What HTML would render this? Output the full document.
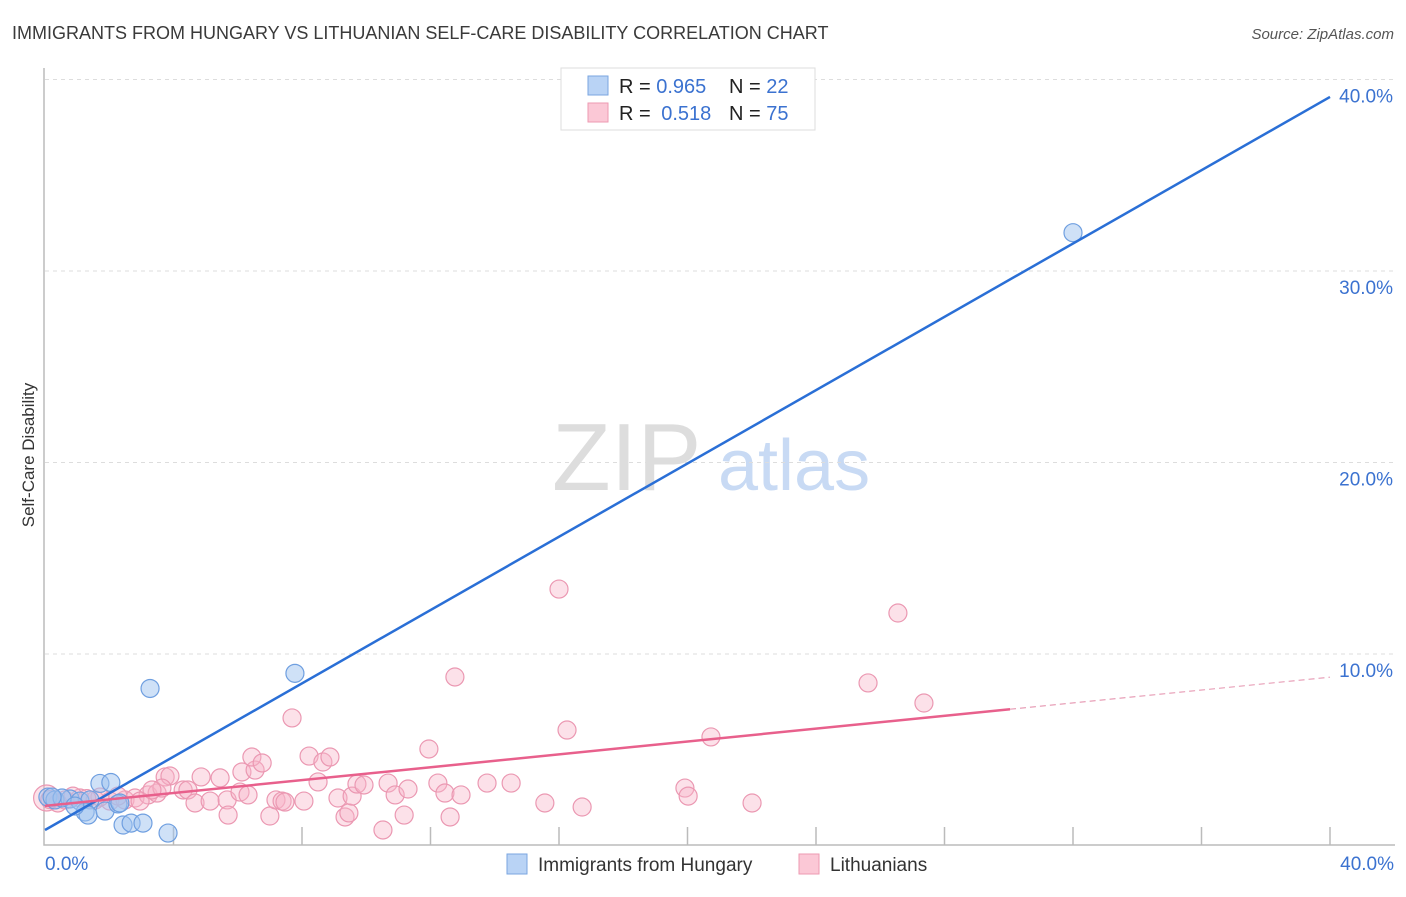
<!DOCTYPE html>
<html><head><meta charset="utf-8"><style>
body{margin:0;background:#fff;font-family:"Liberation Sans",sans-serif;}
svg text{font-family:"Liberation Sans",sans-serif;}
</style></head><body>
<svg id="chart" width="1406" height="892" xmlns="http://www.w3.org/2000/svg">
<text x="12" y="39" font-size="18" fill="#3a3a3a">IMMIGRANTS FROM HUNGARY VS LITHUANIAN SELF-CARE DISABILITY CORRELATION CHART</text>
<text x="1394" y="39" font-size="15" fill="#555" text-anchor="end" font-style="italic">Source: ZipAtlas.com</text>
<text transform="translate(34,455) rotate(-90)" font-size="17" fill="#333" text-anchor="middle">Self-Care Disability</text>
<g>
<text x="552" y="490" font-size="96" fill="#ddd" font-family="Liberation Serif, serif">ZIP</text>
<text x="718" y="490" font-size="72" fill="#c8daf4">atlas</text>
</g>
<g id="grid"></g>
<g id="marks"></g>
<g>
<rect x="561" y="68" width="254" height="62" fill="#fff" stroke="#ddd"/>
<rect x="588" y="76" width="20" height="19" fill="#b9d3f5" stroke="#7aa6e0"/>
<rect x="588" y="103" width="20" height="19" fill="#fbc8d6" stroke="#ee9ab2"/>
<text x="619" y="93" font-size="20" fill="#222">R = <tspan fill="#3b72d0">0.965</tspan><tspan x="729">N = </tspan><tspan fill="#3b72d0">22</tspan></text>
<text x="619" y="120" font-size="20" fill="#222">R = <tspan fill="#3b72d0" dx="5">0.518</tspan><tspan x="729">N = </tspan><tspan fill="#3b72d0">75</tspan></text>
</g>
<g>
<rect x="507" y="854" width="20" height="20" fill="#b9d3f5" stroke="#7aa6e0"/>
<text x="538" y="871" font-size="19" fill="#333">Immigrants from Hungary</text>
<rect x="799" y="854" width="20" height="20" fill="#fbc8d6" stroke="#ee9ab2"/>
<text x="830" y="871" font-size="19" fill="#333">Lithuanians</text>
</g>
</svg>
<script>
const yTicks=[10,20,30,40];
const yTickLabels=["10.0%","20.0%","30.0%","40.0%"];
const xTickLabels=["0.0%","40.0%"];
const blueX=[32.0,7.78,3.27,1.71,2.05,0.09,0.31,0.78,0.53,1.09,1.40,1.25,1.34,1.87,2.27,2.33,2.43,2.68,3.05,3.83,0.22,0.93];
const blueY=[32.0,8.99,8.2,3.24,3.29,2.53,2.38,2.43,2.48,2.32,2.38,1.75,1.59,1.80,2.17,2.22,1.07,1.17,1.17,0.65,2.53,2.06];
const pinkX=[0.05,0.31,0.62,1.09,1.56,2.02,2.49,2.80,3.21,3.49,3.74,3.89,3.64,4.30,4.45,4.67,4.86,5.14,5.45,5.67,5.70,6.07,6.13,6.32,6.54,6.44,6.76,7.00,7.19,7.38,7.47,7.69,8.06,8.22,8.50,8.65,8.87,9.12,9.34,9.46,9.56,9.71,9.93,10.52,10.68,10.90,11.30,11.18,11.95,12.23,12.45,12.61,12.95,12.76,13.76,14.51,15.56,16.72,16.25,16.00,19.92,20.02,20.73,22.01,25.62,27.36,26.55,0.40,1.71,2.96,0.87,2.27,3.33,0.15,1.30];
const pinkY=[2.48,2.38,2.38,2.48,2.38,2.32,2.38,2.48,2.64,2.74,3.58,3.63,3.00,2.90,2.90,2.22,3.58,2.32,3.53,2.38,1.59,2.79,3.84,2.64,3.94,4.62,4.31,1.54,2.38,2.32,2.27,6.66,2.32,4.67,3.32,4.36,4.62,2.48,1.49,1.70,2.58,3.21,3.16,0.81,3.26,2.64,2.95,1.59,5.04,3.26,2.74,1.49,2.64,8.80,3.26,3.26,2.22,2.01,6.03,13.39,3.00,2.58,5.67,2.22,8.49,7.44,12.14,2.22,2.53,2.32,2.58,2.58,2.90,2.40,2.45];
const blueFit=[0.81,0.957];
const pinkFit=[2.07,0.168];
const pinkSolidEnd=30.04;

const NS="http://www.w3.org/2000/svg";
const X0=45,X1=1330,Y0=845.5,PY=19.15;
function sx(v){return X0+(v/40)*(X1-X0);}
function sy(v){return Y0-v*PY;}
function mk(tag,attrs,parent){const e=document.createElementNS(NS,tag);for(const k in attrs)e.setAttribute(k,attrs[k]);parent.appendChild(e);return e;}
const grid=document.getElementById('grid'),marks=document.getElementById('marks');
yTicks.forEach((t,i)=>{
  const l=mk('line',{x1:X0,x2:1395,y1:sy(t),y2:sy(t),stroke:'#ddd','stroke-dasharray':'4,4'},grid);
  
  
  const tx=mk('text',{x:1393,y:sy(t)+23,'font-size':19,fill:'#3b72d0','text-anchor':'end'},grid);
  tx.textContent=yTickLabels[i];
  
  
});
const ax=mk('path',{d:`M${X0-1},68 V845 H${X1+65}`,stroke:'#bbb',fill:'none','stroke-width':1.5},grid);


for(let i=1;i<=10;i++){
  const x=sx(i*4);
  const tk=mk('line',{x1:x,x2:x,y1:827,y2:845,stroke:'#bbb','stroke-width':1.5},grid);
  
  
}
[[0,'start',45],[40,'end',1394]].forEach((a,i)=>{
  const t=mk('text',{x:a[2],y:870,'font-size':19,fill:'#3b72d0','text-anchor':a[1]},grid);
  t.textContent=xTickLabels[i];
  
  
});
pinkX.forEach((x,i)=>{
  const c=mk('circle',{cx:sx(x),cy:sy(pinkY[i]),r:i===0?13:9,fill:'rgba(248,180,200,0.4)',stroke:'#eb98b2','stroke-width':1.2},marks);
  
  
});
blueX.forEach((x,i)=>{
  const c=mk('circle',{cx:sx(x),cy:sy(blueY[i]),r:9,fill:'rgba(160,195,240,0.5)',stroke:'#6f9fe0','stroke-width':1.2},marks);
  
  
});
const bl=mk('line',{x1:sx(0),y1:sy(blueFit[0]),x2:sx(40),y2:sy(blueFit[0]+blueFit[1]*40),stroke:'#2a6fd6','stroke-width':2.5},marks);


const pl=mk('line',{x1:sx(0),y1:sy(pinkFit[0]),x2:sx(pinkSolidEnd),y2:sy(pinkFit[0]+pinkFit[1]*pinkSolidEnd),stroke:'#e8608c','stroke-width':2.5},marks);


const pd=mk('line',{x1:sx(pinkSolidEnd),y1:sy(pinkFit[0]+pinkFit[1]*pinkSolidEnd),x2:sx(40),y2:sy(pinkFit[0]+pinkFit[1]*40),stroke:'#e8a0b8','stroke-width':1.2,'stroke-dasharray':'6,4'},marks);


</script>
</body></html>
